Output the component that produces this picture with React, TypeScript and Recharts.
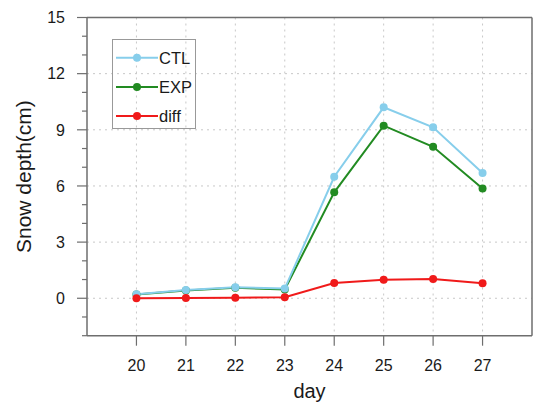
import React from "react";
import { LineChart, Line, XAxis, YAxis, CartesianGrid, Legend } from "recharts";

const days = [20, 21, 22, 23, 24, 25, 26, 27];
const ctl = [0.22, 0.44, 0.59, 0.52, 6.49, 10.2, 9.13, 6.69];
const exp = [0.2, 0.42, 0.56, 0.47, 5.66, 9.22, 8.09, 5.87];
const diff = [0.0, 0.02, 0.03, 0.05, 0.82, 0.99, 1.03, 0.8];

const yTicks = [-2, -1, 0, 1, 2, 3, 4, 5, 6, 7, 8, 9, 10, 11, 12, 13, 14, 15];
const yGrid = [0, 3, 6, 9, 12];
const xDomain = [19, 28];
const yDomain = [-2, 15];

const SERIES = [
    { key: "CTL", color: "#87CEEB", values: ctl },
    { key: "EXP", color: "#228B22", values: exp },
    { key: "diff", color: "#F01A1A", values: diff },
];
// draw order: green under blue, red on top
const DRAW_ORDER = ["EXP", "CTL", "diff"];

const data = days.map((d, i) => ({ day: d, CTL: ctl[i], EXP: exp[i], diff: diff[i] }));

const FONT = "'Liberation Sans', Arial, Helvetica, sans-serif";
const AXIS = "#6e6e6e";

const isMajor = (v: number) => v % 3 === 0;

function BottomTick(props: any) {
    const { x, y, payload } = props;
    return (
        <g>
            <line x1={x} y1={y} x2={x} y2={y + 10} stroke={AXIS} strokeWidth={1.2} />
            <text x={x} y={y + 35} textAnchor="middle" fontSize={16} fontFamily={FONT} fill="#1a1a1a">
                {payload.value}
            </text>
        </g>
    );
}

function TopTick(props: any) {
    const { x, y } = props;
    return <line x1={x} y1={y} x2={x} y2={y - 9} stroke={AXIS} strokeWidth={1.2} />;
}

function LeftTick(props: any) {
    const { x, y, payload } = props;
    const major = isMajor(payload.value);
    return (
        <g>
            <line x1={x - (major ? 10 : 5)} y1={y} x2={x} y2={y} stroke={AXIS} strokeWidth={1.2} />
            {major && (
                <text x={x - 22} y={y + 5.8} textAnchor="end" fontSize={16} fontFamily={FONT} fill="#1a1a1a">
                    {payload.value}
                </text>
            )}
        </g>
    );
}

function RightTick(props: any) {
    const { x, y, payload } = props;
    const major = isMajor(payload.value);
    return <line x1={x} y1={y} x2={x + (major ? 10 : 5)} y2={y} stroke={AXIS} strokeWidth={1.2} />;
}

function LegendBox() {
    return (
        <svg width={84} height={90} style={{ display: "block" }}>
            <rect x={0.5} y={0.5} width={83} height={89} fill="none" stroke="#999" strokeWidth={1} />
            {SERIES.map((s, i) => {
                const cy = 18.7 + i * 29.2;
                return (
                    <g key={s.key}>
                        <line x1={4} y1={cy} x2={46} y2={cy} stroke={s.color} strokeWidth={2} />
                        <circle cx={25} cy={cy} r={4} fill={s.color} />
                        <text x={47} y={cy + 5.8} fontSize={16.5} fontFamily={FONT} fill="#1a1a1a">
                            {s.key}
                        </text>
                    </g>
                );
            })}
        </svg>
    );
}

export default function App() {
    return (
        <div style={{ position: "fixed", left: 0, top: 0, background: "#fff" }}>
            <LineChart width={543} height={404} data={data} margin={{ top: 0, right: 0, bottom: 0, left: 0 }}>
                <CartesianGrid
                    stroke="#c8c8c8"
                    strokeDasharray="2 4"
                    horizontalValues={yGrid}
                    verticalValues={days}
                />
                <XAxis
                    dataKey="day"
                    type="number"
                    domain={xDomain}
                    ticks={days}
                    interval={0}
                    height={68.3}
                    tickSize={0}
                    tickMargin={0}
                    tickLine={false}
                    stroke={AXIS}
                    strokeWidth={1.5}
                    tick={<BottomTick />}
                    label={{
                        content: (p: any) => {
                            const vb = p.viewBox;
                            return (
                                <text
                                    x={vb.x + vb.width / 2}
                                    y={vb.y + 62.5}
                                    textAnchor="middle"
                                    fontSize={20}
                                    fontFamily={FONT}
                                    fill="#1a1a1a"
                                >
                                    day
                                </text>
                            );
                        },
                    }}
                />
                <XAxis
                    xAxisId="top"
                    orientation="top"
                    type="number"
                    domain={xDomain}
                    ticks={days}
                    interval={0}
                    height={17.5}
                    tickSize={0}
                    tickMargin={0}
                    tickLine={false}
                    stroke={AXIS}
                    strokeWidth={1.5}
                    tick={<TopTick />}
                />
                <YAxis
                    type="number"
                    domain={yDomain}
                    ticks={yTicks}
                    interval={0}
                    width={87}
                    tickSize={0}
                    tickMargin={0}
                    tickLine={false}
                    stroke={AXIS}
                    strokeWidth={1.5}
                    tick={<LeftTick />}
                    label={{
                        content: (p: any) => {
                            const vb = p.viewBox;
                            const cy = vb.y + vb.height / 2;
                            return (
                                <text
                                    x={24}
                                    y={cy}
                                    transform={`rotate(-90, 24, ${cy})`}
                                    textAnchor="middle"
                                    dominantBaseline="central"
                                    fontSize={21}
                                    fontFamily={FONT}
                                    fill="#1a1a1a"
                                >
                                    Snow depth(cm)
                                </text>
                            );
                        },
                    }}
                />
                <YAxis
                    yAxisId="right"
                    orientation="right"
                    type="number"
                    domain={yDomain}
                    ticks={yTicks}
                    interval={0}
                    width={11}
                    tickSize={0}
                    tickMargin={0}
                    tickLine={false}
                    stroke={AXIS}
                    strokeWidth={1.5}
                    tick={<RightTick />}
                />
                <Legend
                    layout="vertical"
                    verticalAlign="middle"
                    align="center"
                    content={<LegendBox />}
                    wrapperStyle={{ left: 112, top: 39, width: 84, height: 90 }}
                />
                {DRAW_ORDER.map((k) => {
                    const s = SERIES.find((x) => x.key === k)!;
                    return (
                        <Line
                            key={s.key}
                            dataKey={s.key}
                            stroke={s.color}
                            strokeWidth={2}
                            dot={{ r: 4, fill: s.color, stroke: s.color, strokeWidth: 0 }}
                            activeDot={false}
                            isAnimationActive={false}
                        />
                    );
                })}
            </LineChart>
        </div>
    );
}
